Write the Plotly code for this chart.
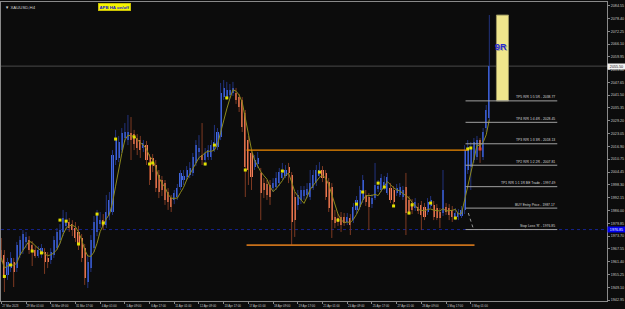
import plotly.graph_objects as go

# ---------------- data (XAUUSD H4, Heikin-Ashi style bars) ----------------
time_labels = ["27 Mar 2023", "29 Mar 01:00", "30 Mar 09:00", "31 Mar 17:00", "4 Apr 01:00",
               "5 Apr 09:00", "6 Apr 17:00", "11 Apr 01:00", "12 Apr 09:00", "13 Apr 17:00",
               "17 Apr 01:00", "18 Apr 09:00", "19 Apr 17:00", "21 Apr 01:00", "24 Apr 09:00",
               "25 Apr 17:00", "27 Apr 01:00", "28 Apr 09:00", "1 May 17:00", "3 May 01:00"]
bars_per_label = 8

price_ticks = [1942.95, 1949.10, 1955.25, 1961.40, 1967.55, 1973.70, 1979.85, 1986.00,
               1992.15, 1998.30, 2004.45, 2010.75, 2016.90, 2023.05, 2029.20, 2035.35,
               2041.50, 2047.65, 2053.80, 2059.95, 2066.10, 2072.25, 2078.40, 2084.55]

open_ = [1967.0, 1964.6, 1955.0, 1958.3, 1961.2, 1958.3, 1964.6, 1967.0, 1970.9, 1971.8,
         1969.4, 1967.0, 1964.1, 1965.1, 1966.0, 1963.2, 1962.2, 1964.6, 1967.9, 1971.8,
         1975.7, 1978.6, 1980.5, 1979.5, 1977.6, 1975.7, 1972.8, 1967.9, 1951.6, 1958.3,
         1967.9, 1975.7, 1979.5, 1981.4, 1979.0, 1983.4, 1985.3, 2010.3, 2011.3, 2015.1,
         2020.9, 2019.9, 2023.3, 2022.8, 2020.9, 2019.9, 2016.1, 2017.5, 2011.8, 2011.3,
         2007.9, 2003.1, 2000.7, 1999.2, 1994.9, 1992.0, 1991.1, 1992.5, 1997.3, 2000.7,
         2002.1, 2003.1, 2004.1, 2008.9, 2014.2, 2012.7, 2010.3, 2011.8, 2011.8, 2015.1,
         2016.6, 2021.4, 2040.6, 2040.6, 2041.6, 2042.6, 2042.6, 2040.6, 2039.2, 2032.9,
         2019.9, 2013.7, 2006.9, 2008.4, 2004.1, 1999.2, 1998.8, 1998.3, 1996.8, 1997.3,
         1999.2, 2001.6, 2002.6, 2006.9, 2003.1, 1992.5, 1988.7, 1991.1, 1993.0, 1993.5,
         1992.5, 1996.8, 1999.2, 2002.6, 2005.5, 2004.1, 1999.7, 1997.3, 1982.9, 1982.4,
         1982.9, 1982.9, 1980.5, 1982.4, 1981.4, 1986.3, 1987.7, 1991.1, 1993.5, 1992.5,
         1989.1, 1992.0, 1996.4, 1995.9, 1997.8, 1994.4, 1996.8, 1995.9, 1994.4, 1993.5,
         1992.5, 1997.3, 1991.1, 1989.6, 1987.2, 1987.7, 1988.7, 1987.7, 1985.3, 1988.2,
         1988.7, 1987.2, 1985.3, 1984.8, 1987.7, 1987.2, 1986.3, 1982.9, 1982.9, 1983.4,
         1986.3, 2005.5, 2006.9, 2010.3, 2011.8, 2019.9, 2011.8, 2025.7, 2030.5]

close = [1963.2, 1953.5, 1961.2, 1963.2, 1956.4, 1969.4, 1971.8, 1974.7, 1973.3, 1967.0,
         1966.0, 1964.1, 1967.0, 1967.9, 1961.2, 1961.2, 1966.0, 1971.8, 1975.7, 1976.6,
         1982.4, 1981.4, 1977.6, 1976.6, 1972.8, 1969.9, 1963.2, 1953.5, 1961.2, 1971.8,
         1980.5, 1984.3, 1981.4, 1978.6, 1985.3, 1991.1, 2012.7, 2020.9, 2019.0, 2023.3,
         2023.8, 2023.8, 2019.9, 2018.0, 2016.1, 2015.1, 2018.5, 2010.3, 2000.7, 2007.4,
         1996.8, 1994.9, 1995.9, 1991.1, 1990.1, 1987.7, 1994.4, 1996.8, 2004.1, 2002.6,
         2005.5, 2006.5, 2011.8, 2017.5, 2016.1, 2010.3, 2013.7, 2015.1, 2017.5, 2019.0,
         2023.8, 2042.6, 2045.0, 2044.0, 2044.0, 2045.0, 2039.2, 2035.8, 2026.2, 2006.9,
         2005.5, 2002.1, 2010.3, 2011.3, 1994.4, 1995.9, 1993.5, 1992.5, 1999.2, 2001.6,
         2004.5, 2004.1, 2005.5, 2004.1, 1980.5, 1981.4, 1993.5, 1995.9, 1995.9, 1996.4,
         1999.2, 2003.1, 2005.5, 2005.5, 2001.6, 1992.5, 1987.2, 1981.4, 1980.0, 1980.5,
         1979.0, 1980.0, 1982.9, 1979.0, 1987.7, 1991.1, 1995.9, 2000.7, 1990.1, 1987.7,
         1992.0, 1998.3, 1997.8, 2001.6, 1999.7, 2002.1, 1991.1, 1990.1, 1996.8, 1997.3,
         1995.9, 1984.8, 1985.3, 1986.3, 1990.1, 1985.8, 1983.9, 1982.9, 1990.1, 1991.1,
         1982.9, 1982.4, 1982.4, 1995.9, 1985.3, 1983.9, 1982.9, 1984.8, 1984.8, 1986.3,
         2015.1, 2016.6, 2016.1, 2019.0, 2019.9, 2015.1, 2023.8, 2034.4, 2055.5]

high = [1972.8, 1967.0, 1963.2, 1966.0, 1963.2, 1970.9, 1973.7, 1976.6, 1975.7, 1973.7,
        1971.3, 1968.9, 1968.9, 1969.9, 1967.9, 1966.0, 1967.9, 1973.7, 1977.6, 1979.5,
        1986.3, 1985.3, 1982.4, 1981.4, 1980.5, 1978.6, 1974.7, 1969.9, 1964.6, 1974.2,
        1983.4, 1986.3, 1985.3, 1984.3, 1993.5, 1994.9, 2015.1, 2024.8, 2021.9, 2025.7,
        2028.1, 2032.0, 2031.0, 2024.8, 2022.8, 2021.9, 2019.9, 2019.5, 2013.2, 2013.2,
        2010.3, 2005.5, 2002.6, 2000.7, 1996.8, 1993.5, 1995.9, 1998.8, 2005.5, 2005.5,
        2007.4, 2009.3, 2013.7, 2019.9, 2022.3, 2028.1, 2016.1, 2017.5, 2019.9, 2027.2,
        2025.7, 2047.4, 2048.8, 2047.9, 2046.9, 2047.9, 2045.0, 2042.1, 2040.6, 2034.4,
        2021.9, 2015.1, 2012.7, 2014.2, 2006.5, 2001.6, 2000.7, 2000.7, 2001.6, 2004.5,
        2006.5, 2008.9, 2007.9, 2008.9, 2004.5, 1994.9, 1995.9, 1997.8, 1997.8, 1999.2,
        2005.5, 2005.5, 2007.9, 2009.3, 2007.4, 2005.5, 2001.6, 1999.2, 1986.3, 1984.3,
        1985.3, 1984.8, 1984.8, 1984.3, 1989.6, 1993.0, 1997.8, 2003.1, 1995.9, 1994.4,
        1993.9, 2008.9, 2000.7, 2003.6, 2002.6, 2004.1, 1999.2, 1997.8, 1998.8, 1999.2,
        1997.8, 2004.1, 1993.0, 1991.5, 1992.0, 1989.6, 1990.6, 1989.6, 1992.0, 1993.0,
        1990.6, 1989.1, 1987.2, 2005.5, 1989.6, 1989.1, 1988.2, 1987.2, 1986.7, 1988.2,
        2017.5, 2019.9, 2019.0, 2020.9, 2021.9, 2020.9, 2025.7, 2036.8, 2080.1]

low = [1961.2, 1946.8, 1952.6, 1956.4, 1949.2, 1956.4, 1963.2, 1965.1, 1967.9, 1965.1,
       1959.3, 1963.2, 1963.2, 1963.2, 1955.5, 1958.3, 1960.3, 1963.2, 1967.0, 1969.9,
       1973.7, 1976.6, 1975.7, 1973.7, 1970.9, 1967.0, 1961.2, 1950.2, 1948.7, 1956.4,
       1966.0, 1973.7, 1977.6, 1976.6, 1977.6, 1981.4, 1983.9, 2007.9, 2009.3, 2013.7,
       2019.0, 2017.5, 2010.3, 2015.1, 2012.7, 2011.3, 2014.2, 2007.9, 1998.3, 2004.5,
       1994.9, 1992.0, 1993.0, 1988.7, 1986.3, 1985.3, 1989.1, 1991.1, 1995.9, 1998.3,
       2000.7, 2001.6, 2002.6, 2007.4, 2010.3, 2007.9, 2007.4, 2010.3, 2010.3, 2014.2,
       2015.1, 2019.9, 2039.2, 2039.2, 2039.7, 2041.1, 2037.3, 2033.4, 2023.8, 1992.5,
       1998.3, 1995.9, 2005.5, 2006.5, 1981.4, 1992.0, 1991.1, 1988.7, 1994.9, 1995.9,
       1997.8, 2000.7, 2001.6, 1999.2, 1969.4, 1973.3, 1986.3, 1989.1, 1991.1, 1992.0,
       1991.1, 1995.9, 1997.8, 2001.6, 1999.7, 1991.1, 1985.3, 1972.8, 1977.6, 1978.6,
       1975.7, 1978.6, 1979.0, 1974.2, 1980.0, 1984.3, 1986.3, 1989.6, 1988.2, 1976.6,
       1987.2, 1991.1, 1994.9, 1994.9, 1995.9, 1993.5, 1989.6, 1988.2, 1993.0, 1992.5,
       1991.1, 1974.2, 1983.9, 1984.3, 1985.8, 1984.3, 1976.6, 1981.4, 1983.9, 1987.2,
       1981.4, 1981.4, 1977.6, 1983.4, 1983.9, 1981.4, 1980.5, 1981.4, 1981.4, 1982.4,
       1984.3, 2003.6, 1995.9, 2008.9, 2010.3, 2008.9, 2010.3, 2023.8, 2029.6]

signal_bars = [1, 3, 10, 13, 19, 21, 25, 31, 33, 37, 43, 48, 49, 66, 69, 73, 79, 91, 103,
               109, 115, 117, 122, 124, 127, 132, 133, 139, 147, 151, 152]
signal_prices = [1954.3, 1959.8, 1966.5, 1965.6, 1981.4, 1980.9, 1969.9, 1984.3, 1980.0,
                 2020.4, 2021.4, 2008.4, 2008.9, 2008.4, 2017.5, 2040.2, 2005.5, 2005.0,
                 2004.5, 1981.4, 1989.1, 1994.9, 1999.2, 1997.3, 1988.2, 1984.8, 1988.7,
                 1989.6, 1982.4, 2015.6, 2016.1]
red_signal_bars = [155]
red_signal_prices = [2015.6]

range_high, range_low = 2015.1, 1969.4
entry_price = 1987.17
stop_loss = 1976.85
tp_names = ["Stop Loss 'R'", "BUY Entry Price", "TP1 R/R 1:1 1R BE Trade", "TP2 R/R 1:2 2R",
            "TP3 R/R 1:3 3R", "TP4 R/R 1:4 4R", "TP5 R/R 1:5 5R"]
tp_r_multiples = [-1, 0, 1, 2, 3, 4, 5]
target_r = 9
ma_period = 5

# ---------------- styling ----------------
BG = "#0c0c0c"
BLUE = "#4169e1"
ORANGE = "#f3805a"
BLUE_WICK = "#22337e"
ORANGE_WICK = "#7e3a22"
FONT = "Liberation Sans, Arial, sans-serif"
AXIS = "#8a8a8a"

n = len(close)
idx = list(range(n))
R = entry_price - stop_loss
levels = [round(entry_price + m * R, 2) for m in tp_r_multiples]
target_price = entry_price + target_r * R

fig = go.Figure()

# wicks
for col, wcol in ((BLUE, BLUE_WICK), (ORANGE, ORANGE_WICK)):
    xs, ys = [], []
    for i in idx:
        up = close[i] >= open_[i]
        if (col == BLUE) == up:
            xs += [i, i, None]
            ys += [low[i], high[i], None]
    fig.add_trace(go.Scatter(x=xs, y=ys, mode="lines", line=dict(color=wcol, width=1),
                             hoverinfo="skip", showlegend=False))

# bodies
for col in (BLUE, ORANGE):
    bx, bb, bh = [], [], []
    for i in idx:
        up = close[i] >= open_[i]
        if (col == BLUE) == up:
            bx.append(i)
            bb.append(min(open_[i], close[i]))
            bh.append(max(abs(close[i] - open_[i]), 0.4))
    fig.add_trace(go.Bar(x=bx, y=bh, base=bb, width=0.68, marker=dict(color=col, line=dict(width=0)),
                         showlegend=False, hoverinfo="skip"))

# moving average
ma = []
for i in idx:
    w = close[max(0, i - ma_period + 1): i + 1]
    ma.append(sum(w) / len(w))
fig.add_trace(go.Scatter(x=idx, y=ma, mode="lines", line=dict(color="#8e8a1c", width=1),
                         hoverinfo="skip", showlegend=False))

# signal dots
fig.add_trace(go.Scatter(x=signal_bars, y=signal_prices, mode="markers",
                         marker=dict(symbol="square", size=3, color="#e2e000",
                                     line=dict(width=0)), showlegend=False))
fig.add_trace(go.Scatter(x=red_signal_bars, y=red_signal_prices, mode="markers",
                         marker=dict(symbol="square", size=3, color="#e04030",
                                     line=dict(width=0)), showlegend=False))

X_MIN, X_MAX = -0.1, 196.1
Y_MIN, Y_MAX = 1942.47, 2086.35

shapes = []
# current price line and stop-loss dotted line across chart
shapes.append(dict(type="line", xref="paper", x0=0, x1=1, yref="y", y0=close[-1], y1=close[-1],
                   line=dict(color="#4a4a4a", width=1), layer="below"))
shapes.append(dict(type="line", xref="paper", x0=0, x1=1, yref="y", y0=stop_loss, y1=stop_loss,
                   line=dict(color="#16238e", width=1, dash="dot"), layer="below"))
# range lines
shapes.append(dict(type="line", x0=79.4, x1=150.9, y0=range_high, y1=range_high,
                   line=dict(color="#f08a00", width=1.2)))
shapes.append(dict(type="line", x0=79.4, x1=153.2, y0=range_low, y1=range_low,
                   line=dict(color="#c8701a", width=1.8)))
# trade levels
for lv in levels:
    shapes.append(dict(type="line", x0=150.3, x1=180.0, y0=lv, y1=lv,
                       line=dict(color="#a0a0a0", width=1)))
# dotted diagonal from entry to SL
shapes.append(dict(type="line", x0=151.2, x1=152.9, y0=1984.8, y1=stop_loss,
                   line=dict(color="#9a9a9a", width=1, dash="dot")))
# 9R target box
shapes.append(dict(type="rect", x0=160.3, x1=164.2, y0=levels[-1], y1=target_price,
                   fillcolor="#f0e68c", line=dict(color="#9c9660", width=1), layer="below"))

annotations = []
for name, lv in zip(tp_names, levels):
    annotations.append(dict(x=180.0, y=lv, xanchor="right", yanchor="bottom", yshift=-0.5,
                            text=f"{name} - {lv:.2f}", showarrow=False,
                            font=dict(size=3.4, color="#d8d8d8", family=FONT)))
annotations.append(dict(x=161.8, y=2064.7, text="<b>9R</b>", showarrow=False, xshift=1.2, yshift=-1.2,
                        font=dict(size=9, color="#a8a690", family=FONT)))
annotations.append(dict(x=161.8, y=2064.7, text="<b>9R</b>", showarrow=False,
                        font=dict(size=9, color="#2a2ad0", family=FONT)))
# symbol caption and button
annotations.append(dict(xref="paper", yref="paper", x=0.004, y=0.995, xanchor="left", yanchor="top",
                        text="▼ XAUUSD,H4", showarrow=False,
                        font=dict(size=4.3, color="#d0d0d0", family=FONT)))
annotations.append(dict(xref="paper", yref="paper", x=0.1605, y=0.996, xanchor="left", yanchor="top",
                        text="<b>APB HA on/off</b>", showarrow=False, bgcolor="#f5f500",
                        bordercolor="#d8c800", borderwidth=0.5, borderpad=1,
                        font=dict(size=4.3, color="#1818c8", family=FONT)))
# price labels on the axis
annotations.append(dict(xref="paper", x=1.0, y=close[-1], xanchor="left", yanchor="middle",
                        text=f"{close[-1]:.2f}", showarrow=False, bgcolor="#f2f2f2", width=16,
                        borderpad=0.5, font=dict(size=3.7, color="#111111", family=FONT)))
annotations.append(dict(xref="paper", x=1.0, y=stop_loss, xanchor="left", yanchor="middle",
                        text=f"{stop_loss:.2f}", showarrow=False, bgcolor="#0000f0", width=16,
                        borderpad=0.5, font=dict(size=3.7, color="#ffffff", family=FONT)))

fig.update_layout(
    width=625, height=309,
    margin=dict(l=1, r=18, t=2, b=8, pad=0),
    paper_bgcolor=BG, plot_bgcolor=BG,
    barmode="overlay", bargap=0,
    showlegend=False,
    shapes=shapes, annotations=annotations,
    xaxis=dict(range=[X_MIN, X_MAX], showgrid=False, zeroline=False,
               tickvals=[k * bars_per_label for k in range(len(time_labels))],
               ticktext=time_labels, ticks="outside", ticklen=2, tickcolor=AXIS,
               ticklabelshift=9, ticklabelstandoff=0,
               tickfont=dict(size=2.9, color="#c8c8c8", family=FONT),
               showline=True, linecolor=AXIS, linewidth=1, mirror=True),
    yaxis=dict(range=[Y_MIN, Y_MAX], side="right", showgrid=False, zeroline=False,
               tickvals=price_ticks, ticktext=[f"{v:.2f}" for v in price_ticks],
               ticks="outside", ticklen=2, tickcolor=AXIS,
               tickfont=dict(size=3.7, color="#c8c8c8", family=FONT),
               showline=True, linecolor=AXIS, linewidth=1, mirror=True),
)

fig.write_html("out.html")
